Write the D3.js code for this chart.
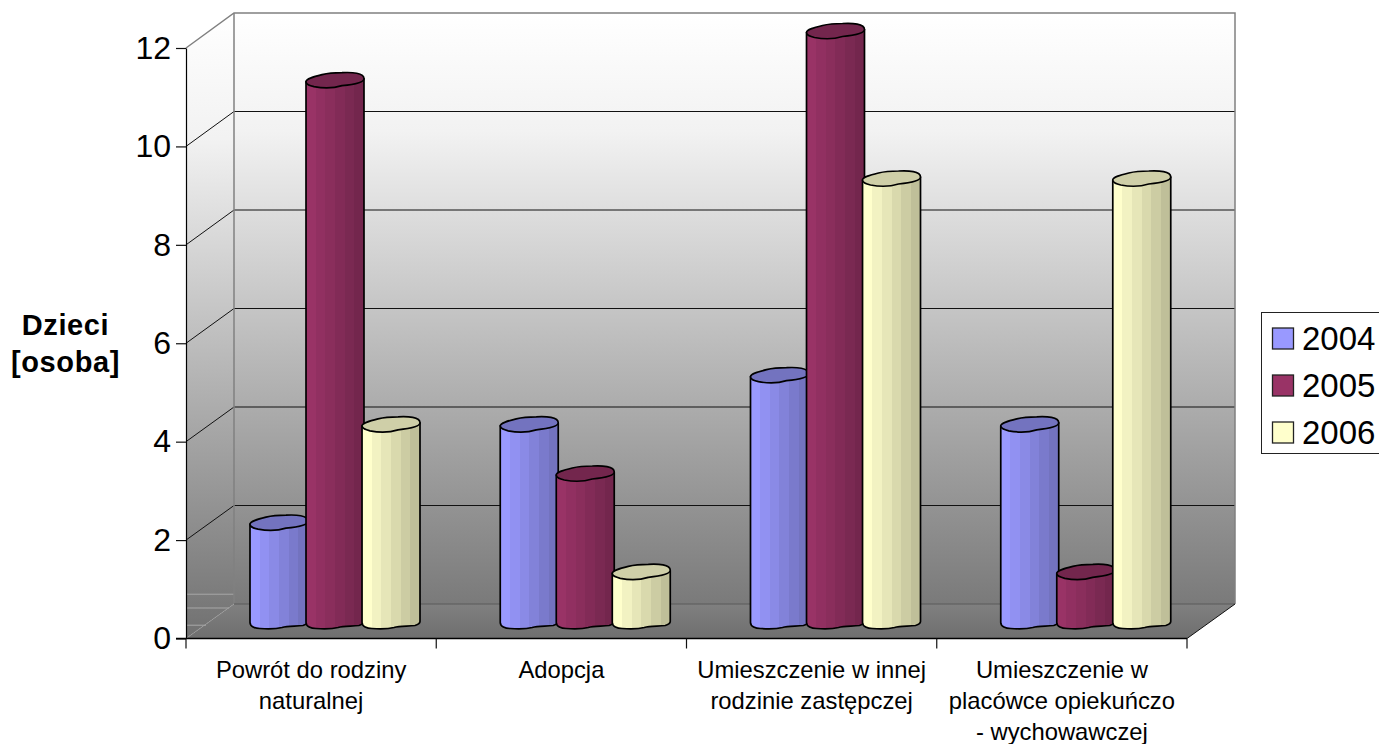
<!DOCTYPE html>
<html><head><meta charset="utf-8">
<script src="https://cdn.jsdelivr.net/npm/d3@7"></script>
<style>html,body{margin:0;padding:0;background:#fff;overflow:hidden}svg{display:block}text{font-family:"Liberation Sans",Arial,sans-serif;fill:#000}</style>
</head><body><svg id="c" width="1379" height="744"></svg>
<script>
const categories=[["Powrót do rodziny","naturalnej"],["Adopcja"],["Umieszczenie w innej","rodzinie zastępczej"],["Umieszczenie w","placówce opiekuńczo","- wychowawczej"]];
const categoryKeys=["a","b","c","d"];
const years=["2004","2005","2006"];
const values2004=[2,4,5,4];
const values2005=[11,3,12,1];
const values2006=[4,1,9,9];
const yTicks=[0,2,4,6,8,10,12];
const yTitle=["Dzieci","[osoba]"];
const colors=[
 {base:["#9999ff","#9191f2","#8a8ae6","#8282d9","#7a7acc","#7373bf"],top:"#7373bf"},
 {base:["#993366","#913061","#8a2e5c","#822b57","#7a2952","#73264d"],top:"#73264d"},
 {base:["#ffffcc","#f2f2c2","#e6e6b8","#d9d9ad","#ccccA3","#bfbf99"],top:"#cfcfa8"}];
const seriesValues=[values2004,values2005,values2006];
const svg=d3.select("#c");
const defs=svg.append("defs");
const x=d3.scaleBand().domain(categoryKeys).range([186,1187]);
const xs=d3.scaleBand().domain(years).range([64,234]).paddingInner(-0.035);
const yFront=d3.scaleLinear().domain([0,12]).range([638.5,48]);
const yWall=d3.scaleLinear().domain([0,12]).range([604,13]);
const yBar=d3.scaleLinear().domain([0,12]).range([628.5,38.5]);
const dx=48;
const wg=defs.append("linearGradient").attr("id","wall").attr("gradientUnits","userSpaceOnUse").attr("x1",0).attr("x2",0).attr("y1",13).attr("y2",604);
wg.append("stop").attr("offset",0).attr("stop-color","#ffffff");
wg.append("stop").attr("offset",0.2).attr("stop-color","#f2f2f2");
wg.append("stop").attr("offset",1).attr("stop-color","#7a7a7a");
const sg=defs.append("linearGradient").attr("id","side").attr("gradientUnits","userSpaceOnUse").attr("x1",0).attr("x2",0).attr("y1",13).attr("y2",640);
sg.append("stop").attr("offset",0).attr("stop-color","#ffffff");
sg.append("stop").attr("offset",0.2).attr("stop-color","#f2f2f2");
sg.append("stop").attr("offset",1).attr("stop-color","#707070");
const fg=defs.append("linearGradient").attr("id","floor").attr("gradientUnits","userSpaceOnUse").attr("x1",0).attr("x2",0).attr("y1",604).attr("y2",639);
fg.append("stop").attr("offset",0).attr("stop-color","#808080");
fg.append("stop").attr("offset",1).attr("stop-color","#6e6e6e");
const x0=x.range()[0],x1=x.range()[1];
const poly=p=>"M"+p.map(d=>d.join(",")).join("L")+"Z";
svg.append("path").attr("d",poly([[x0,yFront(12)],[x0+dx,yWall(12)],[x0+dx,yWall(0)],[x0,yFront(0)]])).attr("fill","url(#side)");
svg.append("rect").attr("x",x0+dx).attr("y",yWall(12)).attr("width",x1-x0).attr("height",yWall(0)-yWall(12)).attr("fill","url(#wall)");
svg.append("path").attr("d",poly([[x0,yFront(0)],[x0+dx,yWall(0)],[x1+dx,yWall(0)],[x1,yFront(0)]])).attr("fill","url(#floor)");
[0.9,0.62,0.27].forEach((v,i)=>svg.append("line").attr("x1",x0).attr("x2",x0+[48,43,20][i]).attr("y1",yFront(v)).attr("y2",yFront(v)).attr("stroke","#a8a8a8").attr("stroke-width",1));
yTicks.filter(d=>d>0&&d<12).forEach(v=>{
 svg.append("path").attr("d",`M${x0},${yFront(v)}L${x0+dx},${yWall(v)}L${x1+dx},${yWall(v)}`).attr("fill","none").attr("stroke","#111").attr("stroke-width",1);
});
svg.append("path").attr("d",`M${x0},${yFront(12)}L${x0+dx},${yWall(12)}L${x1+dx},${yWall(12)}L${x1+dx},${yWall(0)}`).attr("fill","none").attr("stroke","#808080").attr("stroke-width",1.5);
svg.append("line").attr("x1",x0+dx).attr("x2",x0+dx).attr("y1",yWall(12)).attr("y2",yWall(0)).attr("stroke","#808080").attr("stroke-width",1.5);
svg.append("line").attr("x1",x0+dx).attr("x2",x1+dx).attr("y1",yWall(0)).attr("y2",yWall(0)).attr("stroke","#5a5a5a").attr("stroke-width",1);
svg.append("line").attr("x1",x0).attr("x2",x0+dx).attr("y1",yFront(0)).attr("y2",yWall(0)).attr("stroke","#a0a0a0").attr("stroke-width",1).attr("stroke-dasharray","1 1");
svg.append("line").attr("x1",x1).attr("x2",x1+dx).attr("y1",yFront(0)).attr("y2",yWall(0)).attr("stroke","#111").attr("stroke-width",1);
colors.forEach((c,i)=>{
 const g=defs.append("linearGradient").attr("id","bar"+i).attr("x1",0).attr("x2",1).attr("y1",0).attr("y2",0);
 const n=c.base.length;
 c.base.forEach((col,k)=>{
  g.append("stop").attr("offset",k/n).attr("stop-color",col);
  g.append("stop").attr("offset",(k+1)/n).attr("stop-color",col);
 });
});
const w=xs.bandwidth();
years.forEach((yr,si)=>{
 categoryKeys.forEach((cat,ci)=>{
  const l=x(cat)+xs(yr), r=l+w, f=yBar(seriesValues[si][ci]), b=yBar(0);
  const g=svg.append("g").attr("stroke","#000").attr("stroke-width",1.7).attr("stroke-linejoin","round");
  const body=`M${l},${f-6}L${l},${b-6}C${l},${b-2} ${l+5},${b} ${l+10},${b}C${l+18},${b+.5} ${l+26},${b+.5} ${l+32},${b-1}C${l+38},${b-3} ${r-12},${b-2} ${r-5},${b-3}C${r-2},${b-4} ${r},${b-5} ${r},${b-7}L${r},${f-9}Z`;
  g.append("path").attr("d",body).attr("fill",`url(#bar${si})`);
  const cap=`M${l},${f-6}C${l},${f-9} ${l+8},${f-11} ${l+16},${f-13}C${l+24},${f-15} ${l+28},${f-15} ${l+36},${f-15}C${l+46},${f-15.5} ${r},${f-15} ${r},${f-9}C${r},${f-5} ${r-12},${f-3} ${r-22},${f-2}C${r-30},${f+.5} ${l+16},${f+.5} ${l+8},${f-1}C${l+4},${f-2} ${l},${f-3} ${l},${f-6}Z`;
  g.append("path").attr("d",cap).attr("fill",colors[si].top);
 });
});
const ax=svg.append("g").attr("transform",`translate(${x0},0)`).call(d3.axisLeft(yFront).tickValues(yTicks).tickSize(10).tickPadding(5).tickSizeOuter(0).tickFormat(d3.format("d")));
ax.select(".domain").attr("stroke","#000").attr("stroke-width",1.2);
ax.selectAll("line").attr("stroke","#111").attr("stroke-width",1.2);
ax.selectAll("text").attr("font-size",32).attr("font-family",'"Liberation Sans",Arial,sans-serif').attr("fill","#000");
svg.append("line").attr("x1",x0-10).attr("x2",x1).attr("y1",yFront(0)).attr("y2",yFront(0)).attr("stroke","#000").attr("stroke-width",1.4);
[...categoryKeys.map(c=>x(c)),x1].forEach(p=>svg.append("line").attr("x1",p).attr("x2",p).attr("y1",yFront(0)).attr("y2",yFront(0)+10).attr("stroke","#111").attr("stroke-width",1.2));
categories.forEach((lines,i)=>{
 const cx=x(categoryKeys[i])+x.bandwidth()/2;
 lines.forEach((t,k)=>svg.append("text").attr("x",cx).attr("y",678+k*31).attr("text-anchor","middle").attr("font-size",23.8).text(t));
});
yTitle.forEach((t,k)=>svg.append("text").attr("x",65.5).attr("y",335+k*37).attr("text-anchor","middle").attr("font-size",29).attr("font-weight","bold").attr("letter-spacing",0.6).text(t));
svg.append("rect").attr("x",1261.5).attr("y",312.5).attr("width",130).attr("height",141).attr("fill","#fff").attr("stroke","#222").attr("stroke-width",1);
const ly=d3.scalePoint().domain(years).range([338.5,432.5]);
years.forEach((yr,i)=>{
 svg.append("rect").attr("x",1272.5).attr("y",ly(yr)-10.5).attr("width",21).attr("height",21).attr("fill",colors[i].base[0]).attr("stroke","#222").attr("stroke-width",1.3);
 svg.append("text").attr("x",1302).attr("y",ly(yr)+11.5).attr("font-size",33).text(yr);
});
</script></body></html>
